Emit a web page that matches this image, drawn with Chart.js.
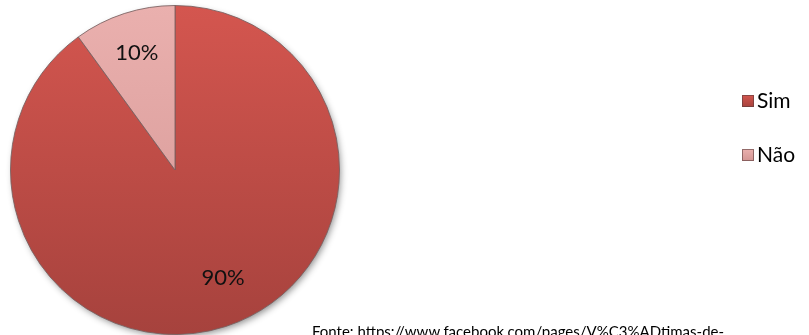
<!DOCTYPE html>
<html>
<head>
<meta charset="utf-8">
<script src="https://cdn.jsdelivr.net/npm/chart.js@4.4.1/dist/chart.umd.min.js"></script>
<style>
  html, body { margin: 0; padding: 0; background: #ffffff; overflow: hidden; }
  #wrap { position: relative; width: 809px; height: 335px; overflow: hidden; }
</style>
</head>
<body>
<div id="wrap"><canvas id="pie" width="809" height="335"></canvas></div>
<script>
// Survey answers (percent)
const categories = ['Sim', 'Não'];
const shares = [90, 10];
const valueLabels = ['90%', '10%'];
const sourceNote = 'Fonte: https://www.facebook.com/pages/V%C3%ADtimas-de-';

// Slice colours: top / bottom of the shaded fill
const sliceTop = ['#d4564f', '#eab0ae'];
const sliceBottom = ['#a6423d', '#d39593'];

function sliceFill(ctx) {
  const chart = ctx.chart;
  const area = chart.chartArea;
  if (!area) return sliceTop[ctx.dataIndex];
  const g = chart.ctx.createLinearGradient(0, area.top, 0, area.bottom);
  g.addColorStop(0, sliceTop[ctx.dataIndex]);
  g.addColorStop(1, sliceBottom[ctx.dataIndex]);
  return g;
}

// Soft drop shadow under the pie
const pieShadow = {
  id: 'pieShadow',
  beforeDatasetsDraw(chart) {
    const arc = chart.getDatasetMeta(0).data[0];
    if (!arc) return;
    const { x, y, outerRadius } = arc.getProps(['x', 'y', 'outerRadius'], true);
    const c = chart.ctx;
    c.save();
    c.shadowColor = 'rgba(0,0,0,0.45)';
    c.shadowBlur = 7;
    c.shadowOffsetX = 2;
    c.shadowOffsetY = 3;
    c.beginPath();
    c.arc(x, y, outerRadius - 1, 0, Math.PI * 2);
    c.fillStyle = '#b04844';
    c.fill();
    c.restore();
  }
};

// Percentage labels inside each slice (radius factor and angle nudge per slice)
const sliceLabels = {
  id: 'sliceLabels',
  afterDatasetsDraw(chart, args, opts) {
    const c = chart.ctx;
    const meta = chart.getDatasetMeta(0);
    c.save();
    c.font = '22px Lato, "Open Sans", sans-serif';
    c.fillStyle = '#111111';
    c.textAlign = 'center';
    c.textBaseline = 'middle';
    meta.data.forEach((arc, i) => {
      const p = arc.getProps(['x', 'y', 'startAngle', 'endAngle', 'outerRadius'], true);
      const mid = (p.startAngle + p.endAngle) / 2 + (opts.nudge[i] || 0) * Math.PI / 180;
      const r = p.outerRadius * opts.radius[i];
      c.fillText(valueLabels[i], p.x + Math.cos(mid) * r, p.y + Math.sin(mid) * r);
    });
    c.restore();
  }
};

// Legend on the right and the source note at the bottom
const sideLegend = {
  id: 'sideLegend',
  afterDraw(chart) {
    const c = chart.ctx;
    c.save();
    const boxX = 742, box = 12, firstTop = 95, step = 54;
    categories.forEach((name, i) => {
      const top = firstTop + i * step;
      const g = c.createLinearGradient(0, top, 0, top + box);
      g.addColorStop(0, sliceTop[i]);
      g.addColorStop(1, sliceBottom[i]);
      c.fillStyle = g;
      c.fillRect(boxX, top, box, box);
      c.strokeStyle = 'rgba(90,60,60,0.6)';
      c.lineWidth = 1;
      c.strokeRect(boxX + 0.5, top + 0.5, box - 1, box - 1);
      c.fillStyle = '#000000';
      c.font = '21px Lato, "Open Sans", sans-serif';
      c.textAlign = 'left';
      c.textBaseline = 'alphabetic';
      c.fillText(name, boxX + box + 3, top + 13);
    });
    c.font = '15px Lato, "Open Sans", sans-serif';
    c.fillStyle = '#000000';
    c.textBaseline = 'top';
    c.fillText(sourceNote, 312, 325);
    c.restore();
  }
};

new Chart(document.getElementById('pie'), {
  type: 'pie',
  data: {
    labels: categories,
    datasets: [{
      data: shares,
      backgroundColor: sliceFill,
      borderColor: 'rgba(120,95,95,0.85)',
      borderWidth: 1
    }]
  },
  options: {
    responsive: false,
    animation: false,
    layout: { padding: { left: 10, top: 5, right: 469, bottom: 0 } },
    plugins: {
      legend: { display: false },
      tooltip: { enabled: false },
      sliceLabels: { radius: [0.72, 0.75], nudge: [-6, 0] }
    }
  },
  plugins: [pieShadow, sliceLabels, sideLegend]
});
</script>
</body>
</html>
